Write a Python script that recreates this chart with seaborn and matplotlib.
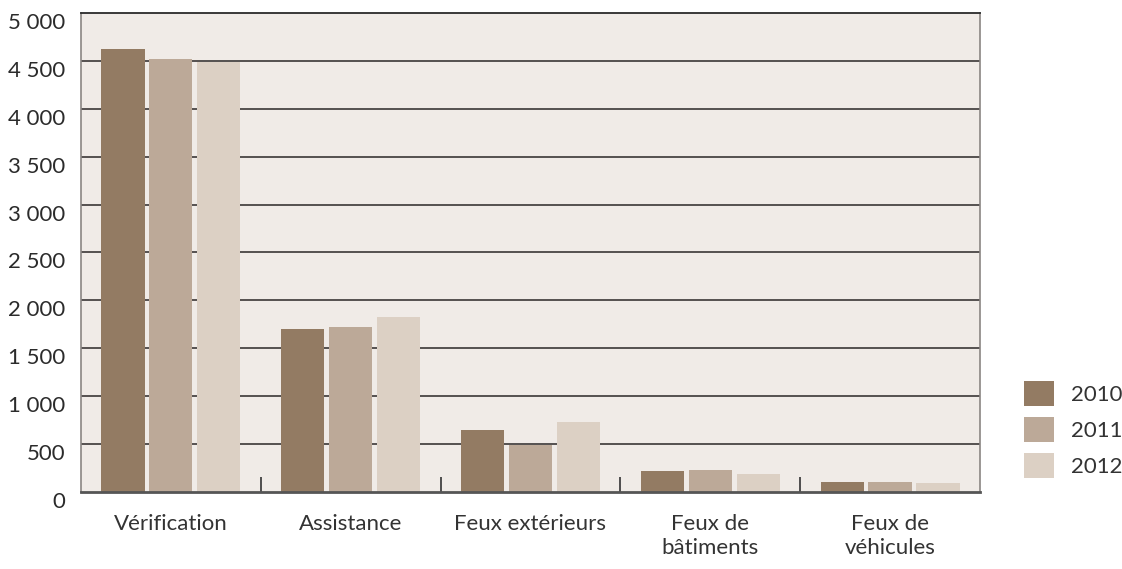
import numpy as np
import pandas as pd
import seaborn as sns
import matplotlib.pyplot as plt
import matplotlib.transforms as mtransforms
from matplotlib.patches import Patch
from matplotlib.ticker import FixedLocator

CATEGORIES = ['Vérification', 'Assistance', 'Feux extérieurs', 'Feux de\nbâtiments', 'Feux de\nvéhicules']
YEARS = ['2010', '2011', '2012']
VALUES_2010 = [4620, 1700, 650, 220, 105]
VALUES_2011 = [4520, 1720, 490, 230, 105]
VALUES_2012 = [4490, 1825, 730, 190, 95]
COLORS = ['#937B63', '#BCA998', '#DCD0C4']
Y_TICKS = list(range(0, 5001, 500))

FONT_SIZE = 16


def build_df():
    rows = []
    for year, vals in zip(YEARS, [VALUES_2010, VALUES_2011, VALUES_2012]):
        for cat, v in zip(CATEGORIES, vals):
            rows.append({'category': cat, 'year': year, 'value': v})
    return pd.DataFrame(rows)


def fmt_thousands(v):
    return f'{v:,}'.replace(',', ' ')


def draw():
    df = build_df()

    sns.set_theme(style='white')
    plt.rcParams['font.family'] = ['Lato', 'DejaVu Sans']

    fig = plt.figure(figsize=(11.22, 5.69), dpi=100)
    ax = fig.add_axes([0.0722, 0.1353, 0.8012, 0.8419])
    ax.set_facecolor('#F0EBE7')

    sns.barplot(data=df, x='category', y='value', hue='year', palette=COLORS,
                order=CATEGORIES, hue_order=YEARS, gap=0.1, width=0.8,
                saturation=1, ax=ax, legend=False, zorder=2,
                linewidth=0, edgecolor='none')

    ax.set_ylim(0, 5000)
    ax.set_xlim(-0.5, len(CATEGORIES) - 0.5)
    ax.set_yticks(Y_TICKS)
    ax.set_yticklabels([fmt_thousands(v) for v in Y_TICKS], fontsize=FONT_SIZE, color='#2b2b2b')
    ax.set_xticks(range(len(CATEGORIES)))
    ax.set_xticklabels(CATEGORIES, fontsize=FONT_SIZE, color='#333333', linespacing=1.25, va='top')
    ax.set_xlabel('')
    ax.set_ylabel('')

    for y in Y_TICKS[1:-1]:
        ax.axhline(y, color='#3a3636', lw=1.2, zorder=1)

    ax.tick_params(axis='y', length=0, pad=11)
    ax.tick_params(axis='x', which='major', length=0, pad=16)
    ax.xaxis.set_minor_locator(FixedLocator(np.arange(0.5, len(CATEGORIES) - 1, 1.0)))
    ax.tick_params(axis='x', which='minor', direction='in', length=11, width=1.2,
                   color='#333333', bottom=True)

    # the reference sets its y labels a little under the grid lines
    offset = mtransforms.ScaledTranslation(0, -8 / 100, fig.dpi_scale_trans)
    for lab in ax.get_yticklabels():
        lab.set_transform(lab.get_transform() + offset)

    for side in ['left', 'right']:
        ax.spines[side].set_color('#8a8583')
        ax.spines[side].set_linewidth(1.2)
    ax.spines['top'].set_color('#2a2a2a')
    ax.spines['top'].set_linewidth(1.3)
    ax.spines['bottom'].set_color('#555555')
    ax.spines['bottom'].set_linewidth(2)
    for sp in ax.spines.values():
        sp.set_zorder(4)

    handles = [Patch(facecolor=c, edgecolor='none') for c in COLORS]
    fig.legend(handles, YEARS, loc='upper left', bbox_to_anchor=(0.9127, 0.3304),
               frameon=False, fontsize=FONT_SIZE, handlelength=1.35, handleheight=1.35,
               handletextpad=0.77, labelspacing=0.5, labelcolor='#333333',
               borderpad=0, borderaxespad=0)

    fig.savefig('out.png', dpi=100)
    return fig


draw()
